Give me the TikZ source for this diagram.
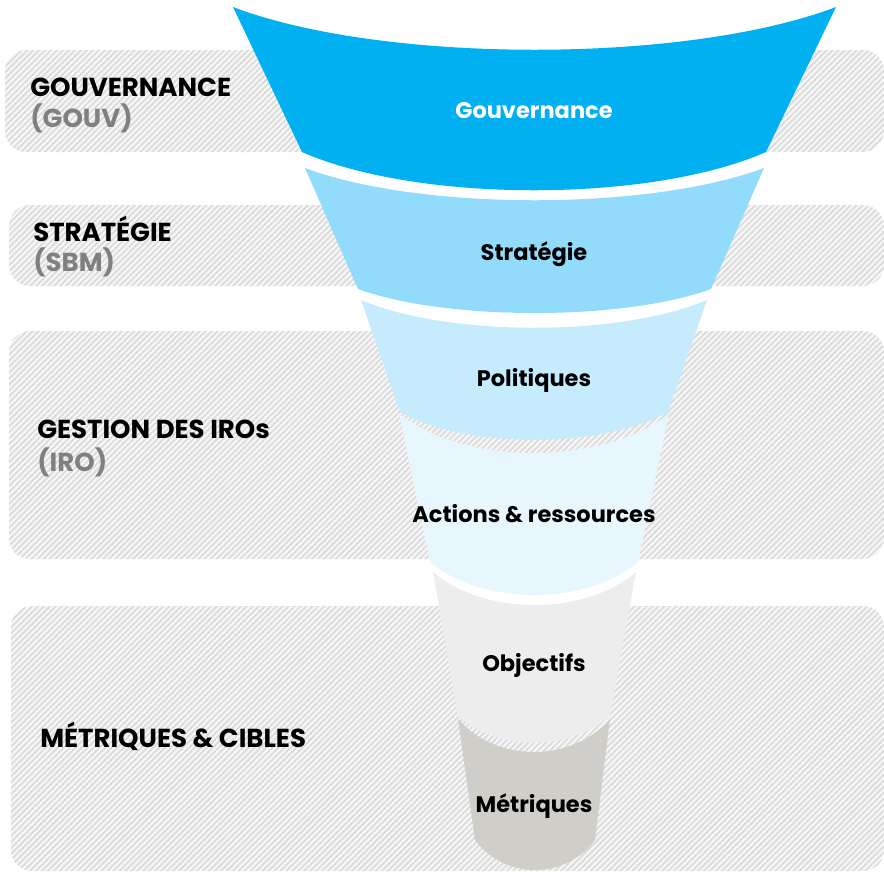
\documentclass[tikz,border=0pt]{standalone}
\usepackage{fontspec}
\setmainfont{Poppins}
\usetikzlibrary{patterns.meta}
\definecolor{gouvblue}{HTML}{00B0F0}
\definecolor{stratblue}{HTML}{92DBFB}
\definecolor{polblue}{HTML}{C5EBFC}
\definecolor{actblue}{HTML}{E8F6FD}
\definecolor{objgray}{HTML}{EDEDED}
\definecolor{metgray}{HTML}{CFCEC8}
\definecolor{subgray}{HTML}{808080}
\begin{document}
\begin{tikzpicture}[x=0.025cm,y=-0.025cm,
  panel/.style={fill=black!3,rounded corners=15,
    postaction={pattern={Lines[angle=45,distance=3pt,line width=1.3pt]},pattern color=black!14}},
  lab/.style={anchor=base west,inner sep=0,font=\fontsize{18.5}{20}\selectfont\bfseries},
  sub/.style={lab,text=subgray},
  seglab/.style={font=\fontsize{16}{18}\selectfont\bfseries}]
\useasboundingbox (0,0) rectangle (884,871);
% hatched bands
\path[panel] (5,50) rectangle (884,152);
\path[panel] (9,205) rectangle (884,286);
\path[panel] (9,331) rectangle (884,559);
\path[panel] (11,606) rectangle (884,871);
% funnel
\fill[gouvblue] (233,7) .. controls (383,64) and (686,64) .. (836,7)
  -- (766,152) .. controls (650,203) and (418,203) .. (302,152) -- cycle;
\fill[stratblue] (305,168) .. controls (420,211) and (649,211) .. (764,168)
  -- (711,289) .. controls (623,321) and (446,321) .. (358,289) -- cycle;
\fill[polblue] (361,300) .. controls (448,337) and (620,337) .. (707,300)
  -- (668,412) .. controls (601,449) and (467,449) .. (400,412) -- cycle;
\fill[actblue] (399,414) .. controls (466,466) and (602,466) .. (669,414)
  -- (638,562) .. controls (586,606) and (482,606) .. (430,562) -- cycle;
\fill[objgray] (433,572) .. controls (484,616) and (585,616) .. (636,572)
  -- (610,716) .. controls (572,751) and (496,751) .. (458,716) -- cycle;
\fill[metgray] (458,719) .. controls (496,763) and (572,763) .. (610,719)
  -- (595,840) .. controls (565,880) and (505,880) .. (475,840) -- cycle;
% funnel texts
\node[seglab,text=white] (tgouv) at (534,111) {Gouvernance};
\node[seglab] (tstrat) at (534,254) {Stratégie};
\node[seglab] (tpol) at (534,380) {Politiques};
\node[seglab] (tact) at (534,514) {Actions \& ressources};
\node[seglab] (tobj) at (534,665) {Objectifs};
\node[seglab] (tmet) at (534,806) {Métriques};
% side labels
\node[lab] (lgouv) at (30,96) {GOUVERNANCE};
\node[sub] (sgouv) at (30,127) {(GOUV)};
\node[lab] (lstrat) at (33,241) {STRATÉGIE};
\node[sub] (sstrat) at (33,271) {(SBM)};
\node[lab] (liro) at (37,438) {GESTION DES IROs};
\node[sub] (siro) at (37,471) {(IRO)};
\node[lab] (lmet) at (40,747) {MÉTRIQUES \& CIBLES};
\end{tikzpicture}
\end{document}
